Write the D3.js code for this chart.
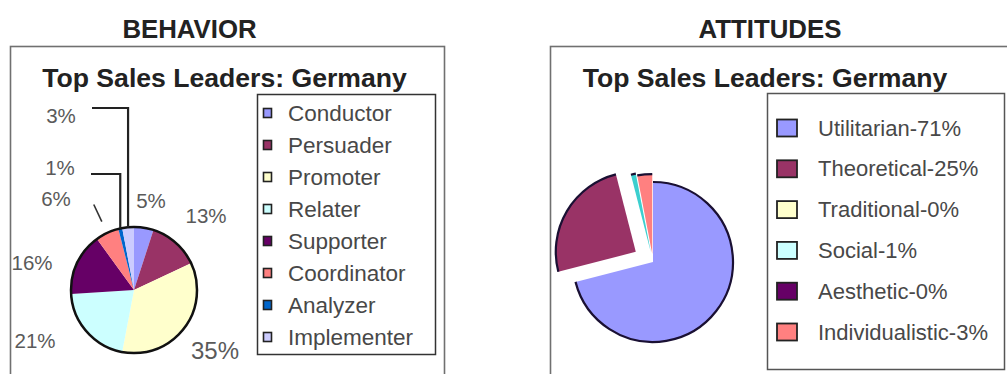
<!DOCTYPE html>
<html>
<head>
<meta charset="utf-8">
<script src="https://cdn.jsdelivr.net/npm/d3@7"></script>
<style>
  html, body { margin: 0; padding: 0; background: #fff; }
  svg { display: block; font-family: Arial, "Liberation Sans", sans-serif; }
</style>
</head>
<body>
<svg id="chart" width="1007" height="374"></svg>
<script>
// ---------- data ----------
const panelTitles = ["BEHAVIOR", "ATTITUDES"];
const chartTitle = "Top Sales Leaders: Germany";

const behCategories = ["Conductor", "Persuader", "Promoter", "Relater", "Supporter", "Coordinator", "Analyzer", "Implementer"];
const behValues = [5, 13, 35, 21, 16, 6, 1, 3];
const behColors = ["#9999FF", "#993366", "#FFFFCC", "#CCFFFF", "#660066", "#FF8080", "#0066CC", "#CCCCFF"];

const attCategories = ["Utilitarian", "Theoretical", "Traditional", "Social", "Aesthetic", "Individualistic"];
const attValues = [71, 25, 0, 1, 0, 3];
const attPieColors = ["#9999FF", "#993366", "#FFFFCC", "#3CCFCF", "#660066", "#FF8080"];
const attLegendColors = ["#9999FF", "#993366", "#FFFFCC", "#CCFFFF", "#660066", "#FF8080"];

// ---------- layout (not data) ----------
const behLabelAt = [[17, -90], [72, -75], [81, 60], [-99, 50], [-102, -28], [-78, -92], [-74, -123], [-73, -175]];
const behLeader = ["", "", "", "", "", "tick", "elbow", "elbow"];
const attExplode = [0, 20, 0, 10, 0, 8];

const svg = d3.select("#chart");
const fmtPct = v => v + "%";

// panel frames
svg.append("rect").attr("x", 10.5).attr("y", 46.5).attr("width", 434).attr("height", 360)
  .attr("fill", "none").attr("stroke", "#707070").attr("stroke-width", 1.6);
svg.append("rect").attr("x", 550.5).attr("y", 46.5).attr("width", 500).attr("height", 360)
  .attr("fill", "none").attr("stroke", "#707070").attr("stroke-width", 1.6);

// panel titles
svg.selectAll("text.ptitle").data(panelTitles).enter().append("text")
  .attr("class", "ptitle")
  .attr("x", (d, i) => i === 0 ? 189.5 : 770).attr("y", 38)
  .attr("text-anchor", "middle").attr("font-weight", "bold").attr("font-size", 25.8)
  .attr("fill", "#222").text(d => d);

// chart titles
[224.5, 765].forEach(cx => {
  svg.append("text").attr("x", cx).attr("y", 87).attr("text-anchor", "middle")
    .attr("font-weight", "bold").attr("font-size", 26.6).attr("fill", "#222").text(chartTitle);
});

// ---------- BEHAVIOR pie ----------
const bcx = 134, bcy = 290, br = 63;
const pie = d3.pie().sort(null).value(d => d).startAngle(0).endAngle(2 * Math.PI);
const behArcs = pie(behValues);
const behArc = d3.arc().innerRadius(0).outerRadius(br);
const gB = svg.append("g").attr("transform", `translate(${bcx},${bcy})`);
gB.selectAll("path.slice").data(behArcs).enter().append("path")
  .attr("class", "slice").attr("d", behArc).attr("fill", (d, i) => behColors[i]);
gB.append("circle").attr("r", br).attr("fill", "none").attr("stroke", "#111").attr("stroke-width", 2.5);

const mid = d => (d.startAngle + d.endAngle) / 2;
const polar = (a, r) => [Math.sin(a) * r, -Math.cos(a) * r];

// leader lines
behArcs.forEach((d, i) => {
  const a = mid(d);
  if (behLeader[i] === "elbow") {
    const [ex, ey] = polar(a, br);
    const [lx, ly] = behLabelAt[i];
    gB.append("path").attr("d", `M${lx + 31},${ly - (i === 7 ? 7 : -7)}H${ex}V${ey}`)
      .attr("fill", "none").attr("stroke", "#222").attr("stroke-width", 2.2);
  } else if (behLeader[i] === "tick") {
    const p1 = polar(a, br * 1.2), p2 = polar(a, br * 1.5);
    gB.append("line").attr("x1", p1[0]).attr("y1", p1[1]).attr("x2", p2[0]).attr("y2", p2[1])
      .attr("stroke", "#333").attr("stroke-width", 1.6);
  }
});

gB.selectAll("text.lbl").data(behArcs).enter().append("text")
  .attr("class", "lbl")
  .attr("x", (d, i) => behLabelAt[i][0]).attr("y", (d, i) => behLabelAt[i][1])
  .attr("text-anchor", "middle").attr("dominant-baseline", "central")
  .attr("font-size", d => d.data >= 30 ? 24 : 20.5).attr("fill", "#5a5a5a")
  .text(d => fmtPct(d.data));

// behavior legend
svg.append("rect").attr("x", 257.5).attr("y", 94.5).attr("width", 178).attr("height", 260)
  .attr("fill", "#fff").attr("stroke", "#333").attr("stroke-width", 1.5);
const ly = d3.scalePoint().domain(behCategories).range([113, 337]);
const itB = svg.append("g").selectAll("g").data(behCategories).enter().append("g")
  .attr("transform", d => `translate(0,${ly(d)})`);
itB.append("rect").attr("x", 263.5).attr("y", -4.5).attr("width", 8).attr("height", 9)
  .attr("fill", (d, i) => behColors[i]).attr("stroke", "#222").attr("stroke-width", 1.6);
itB.append("text").attr("x", 288).attr("y", 0).attr("dominant-baseline", "central")
  .attr("font-size", 22.5).attr("fill", "#484848").text(d => d);

// ---------- ATTITUDES pie ----------
const acx = 653, acy = 262, ar = 80;
const attArcs = pie(attValues);
const attArc = d3.arc().innerRadius(0).outerRadius(ar);
const attRim = d3.arc().innerRadius(ar).outerRadius(ar);
const gA = svg.append("g").attr("transform", `translate(${acx},${acy})`);
const sl = gA.selectAll("g.s").data(attArcs).enter().append("g")
  .attr("class", "s")
  .attr("transform", (d, i) => { const [x, y] = polar(mid(d), attExplode[i]); return `translate(${x},${y})`; });
sl.append("path").attr("d", attArc).attr("fill", (d, i) => attPieColors[i]);
sl.filter(d => d.data > 0).append("path").attr("d", attRim)
  .attr("fill", "none").attr("stroke", "#1a1033").attr("stroke-width", 2.2);

// attitudes legend
svg.append("rect").attr("x", 767.5).attr("y", 93.5).attr("width", 237).attr("height", 276)
  .attr("fill", "#fff").attr("stroke", "#555").attr("stroke-width", 1.5);
const ly2 = d3.scalePoint().domain(attCategories).range([128, 332]);
const itA = svg.append("g").selectAll("g").data(attCategories).enter().append("g")
  .attr("transform", d => `translate(0,${ly2(d)})`);
itA.append("rect").attr("x", 777).attr("y", -8.5).attr("width", 20).attr("height", 17)
  .attr("fill", (d, i) => attLegendColors[i]).attr("stroke", "#222").attr("stroke-width", 1.8);
itA.append("text").attr("x", 818).attr("y", 0).attr("dominant-baseline", "central")
  .attr("font-size", 22).attr("fill", "#484848").text((d, i) => d + "-" + fmtPct(attValues[i]));
</script>
</body>
</html>
